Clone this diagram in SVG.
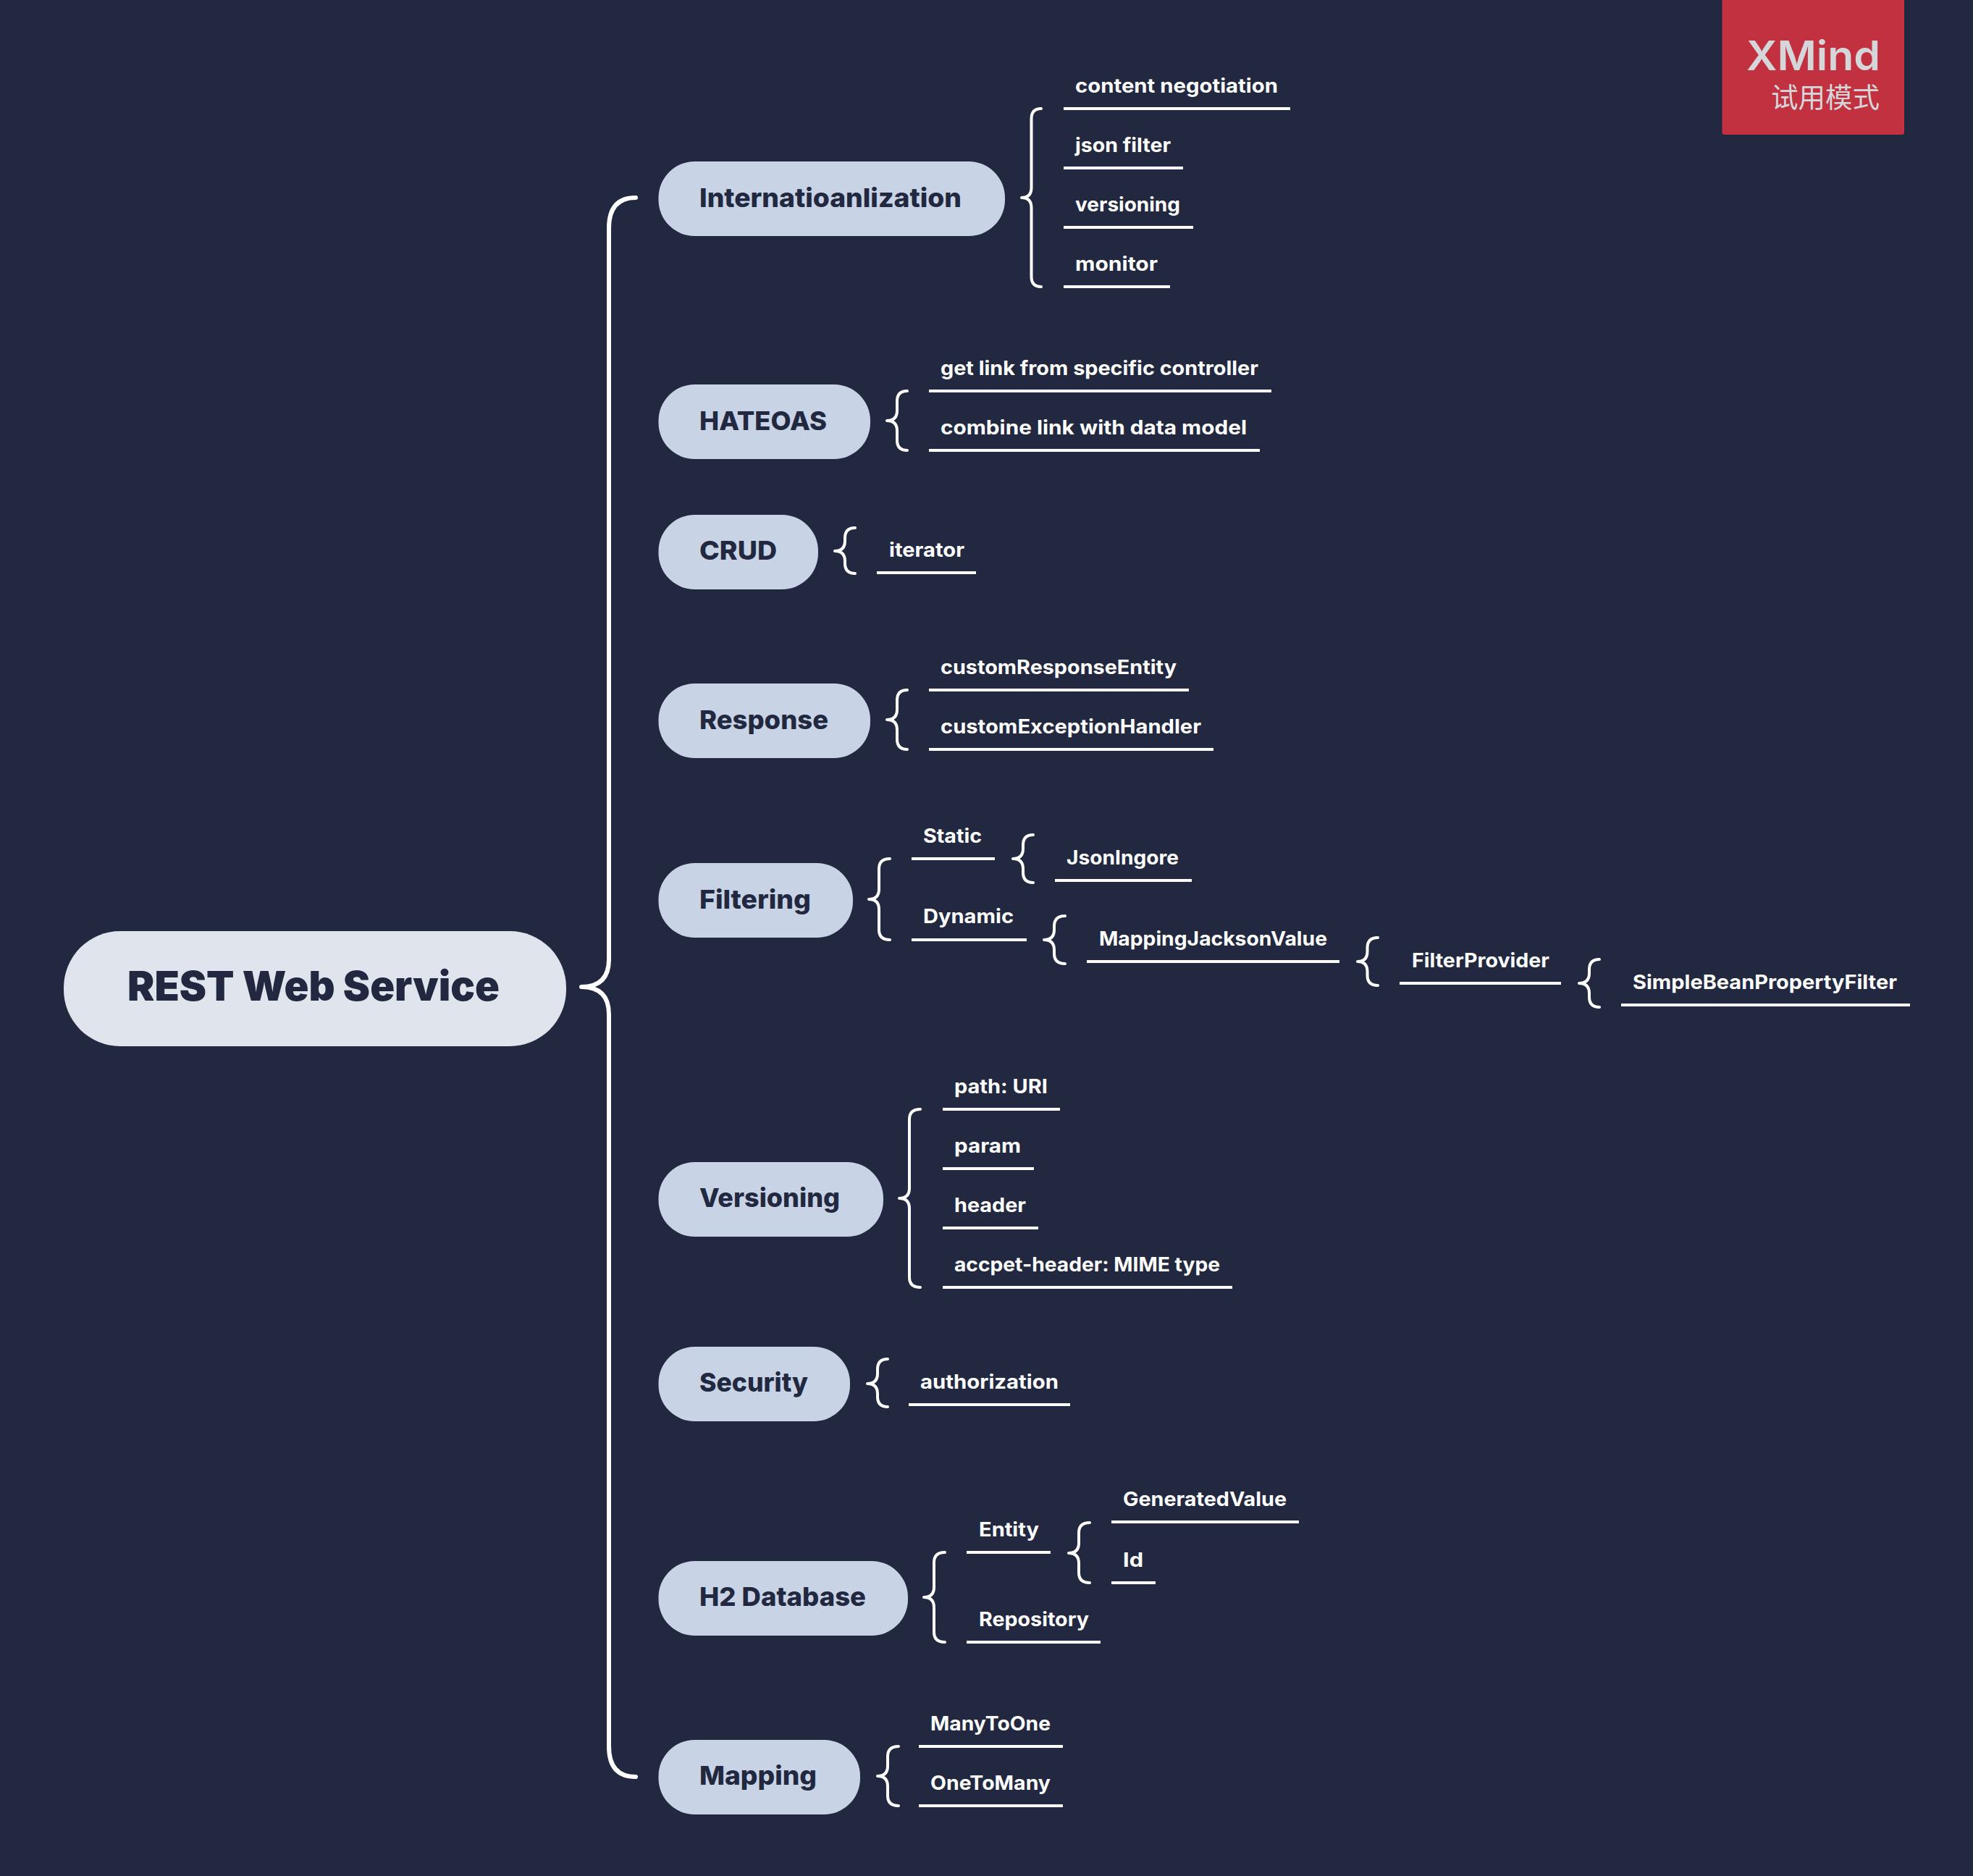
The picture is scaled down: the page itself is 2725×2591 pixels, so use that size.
<svg xmlns="http://www.w3.org/2000/svg" width="2725" height="2591" viewBox="0 0 2725 2591">
<style>
text{font-family:"Inter","Noto Sans","Liberation Sans",sans-serif}
.bg{fill:#21283f}
.root{fill:#e0e5ed}
.main{fill:#c8d4e6}
.rt{font-size:57px;font-weight:900;fill:#21283f}
.mt{font-size:36px;font-weight:800;fill:#21283f}
.ct{font-size:27px;font-weight:650;fill:#fff}
.ul{stroke:#fff;stroke-width:4;fill:none}
.br{stroke:#fff;stroke-width:4;fill:none;stroke-linecap:round;stroke-linejoin:round}
.brb{stroke:#fff;stroke-width:6;fill:none;stroke-linecap:round;stroke-linejoin:round}
</style>
<rect class="bg" width="2725" height="2591"/>
<g id="connectors">
<path class="brb" d="M878 273Q841 273 841 315V1325Q841 1363 803 1363Q841 1363 841 1401V2412Q841 2454 878 2454"/>
<path class="br" d="M1438 150Q1424.500 150 1424.500 164V259Q1424.500 273 1411 273Q1424.500 273 1424.500 287V382Q1424.500 396 1438 396"/>
<path class="br" d="M1253 540Q1239 540 1239 554V567Q1239 581 1225 581Q1239 581 1239 595V608Q1239 622 1253 622"/>
<path class="br" d="M1181 729Q1167 729 1167 743V747Q1167 761 1153 761Q1167 761 1167 775V778Q1167 792 1181 792"/>
<path class="br" d="M1253 953Q1239 953 1239 967V980Q1239 994 1225 994Q1239 994 1239 1008V1021Q1239 1035 1253 1035"/>
<path class="br" d="M1229 1186Q1214 1186 1214 1200V1228Q1214 1242 1200 1242Q1214 1242 1214 1256V1284Q1214 1298 1229 1298"/>
<path class="br" d="M1427 1153Q1413 1153 1413 1167V1172Q1413 1186 1399 1186Q1413 1186 1413 1200V1205Q1413 1219 1427 1219"/>
<path class="br" d="M1471 1265Q1456 1265 1456 1279V1284Q1456 1298 1442 1298Q1456 1298 1456 1312V1317Q1456 1331 1471 1331"/>
<path class="br" d="M1903 1295Q1888.500 1295 1888.500 1309V1314Q1888.500 1328 1875 1328Q1888.500 1328 1888.500 1342V1347Q1888.500 1361 1903 1361"/>
<path class="br" d="M2209 1325Q2195 1325 2195 1339V1344Q2195 1358 2181 1358Q2195 1358 2195 1372V1377Q2195 1391 2209 1391"/>
<path class="br" d="M1271 1532Q1256 1532 1256 1546V1641Q1256 1655 1242 1655Q1256 1655 1256 1669V1764Q1256 1778 1271 1778"/>
<path class="br" d="M1226 1877Q1212 1877 1212 1891V1897Q1212 1911 1198 1911Q1212 1911 1212 1925V1929Q1212 1943 1226 1943"/>
<path class="br" d="M1305 2144Q1290 2144 1290 2158V2192Q1290 2206 1276 2206Q1290 2206 1290 2220V2254Q1290 2268 1305 2268"/>
<path class="br" d="M1505 2103Q1490 2103 1490 2117V2131Q1490 2145 1476 2145Q1490 2145 1490 2159V2172Q1490 2186 1505 2186"/>
<path class="br" d="M1241 2412Q1226 2412 1226 2426V2439Q1226 2453 1212 2453Q1226 2453 1226 2467V2480Q1226 2494 1241 2494"/>
</g>
<g id="root"><rect class="root" x="88" y="1286" width="694" height="159" rx="78" ry="78"/><text class="rt" x="176" y="1382" textLength="514" lengthAdjust="spacingAndGlyphs">REST Web Service</text></g>
<g id="n-internationalization"><rect class="main" x="909.500" y="223" width="478.500" height="103" rx="50"/><text class="mt" x="966" y="286" textLength="362" lengthAdjust="spacingAndGlyphs">Internatioanlization</text></g>
<g id="n-hateoas"><rect class="main" x="909.500" y="531" width="292.500" height="103" rx="50"/><text class="mt" x="966" y="594" textLength="176" lengthAdjust="spacingAndGlyphs">HATEOAS</text></g>
<g id="n-crud"><rect class="main" x="909.500" y="711" width="220.500" height="103" rx="50"/><text class="mt" x="966" y="773" textLength="107" lengthAdjust="spacingAndGlyphs">CRUD</text></g>
<g id="n-response"><rect class="main" x="909.500" y="944" width="292.500" height="103" rx="50"/><text class="mt" x="966" y="1007" textLength="178" lengthAdjust="spacingAndGlyphs">Response</text></g>
<g id="n-filtering"><rect class="main" x="909.500" y="1192" width="268.500" height="103" rx="50"/><text class="mt" x="966" y="1255" textLength="154" lengthAdjust="spacingAndGlyphs">Filtering</text></g>
<g id="n-versioning"><rect class="main" x="909.500" y="1605" width="310.500" height="103" rx="50"/><text class="mt" x="966" y="1667" textLength="194" lengthAdjust="spacingAndGlyphs">Versioning</text></g>
<g id="n-security"><rect class="main" x="909.500" y="1860" width="264.500" height="103" rx="50"/><text class="mt" x="966" y="1922" textLength="150" lengthAdjust="spacingAndGlyphs">Security</text></g>
<g id="n-h2"><rect class="main" x="909.500" y="2156" width="344.500" height="103" rx="50"/><text class="mt" x="966" y="2218" textLength="230" lengthAdjust="spacingAndGlyphs">H2 Database</text></g>
<g id="n-mapping"><rect class="main" x="909.500" y="2403" width="278.500" height="103" rx="50"/><text class="mt" x="966" y="2465" textLength="162" lengthAdjust="spacingAndGlyphs">Mapping</text></g>
<g id="c-content"><path class="ul" d="M1469 150H1782"/><text class="ct" x="1485" y="128" textLength="280" lengthAdjust="spacingAndGlyphs">content negotiation</text></g>
<g id="c-json"><path class="ul" d="M1469 232H1634"/><text class="ct" x="1485" y="210" textLength="132" lengthAdjust="spacingAndGlyphs">json filter</text></g>
<g id="c-versioning"><path class="ul" d="M1469 314H1648"/><text class="ct" x="1485" y="292" textLength="145" lengthAdjust="spacingAndGlyphs">versioning</text></g>
<g id="c-monitor"><path class="ul" d="M1469 396H1616"/><text class="ct" x="1485" y="374" textLength="114" lengthAdjust="spacingAndGlyphs">monitor</text></g>
<g id="c-getlink"><path class="ul" d="M1283 540H1756"/><text class="ct" x="1299" y="518" textLength="439" lengthAdjust="spacingAndGlyphs">get link from specific controller</text></g>
<g id="c-combine"><path class="ul" d="M1283 622H1740"/><text class="ct" x="1299" y="600" textLength="423" lengthAdjust="spacingAndGlyphs">combine link with data model</text></g>
<g id="c-iterator"><path class="ul" d="M1211 791H1348"/><text class="ct" x="1228" y="769" textLength="104" lengthAdjust="spacingAndGlyphs">iterator</text></g>
<g id="c-cre"><path class="ul" d="M1283 953H1642"/><text class="ct" x="1299" y="931" textLength="326" lengthAdjust="spacingAndGlyphs">customResponseEntity</text></g>
<g id="c-ceh"><path class="ul" d="M1283 1035H1676"/><text class="ct" x="1299" y="1013" textLength="360" lengthAdjust="spacingAndGlyphs">customExceptionHandler</text></g>
<g id="c-static"><path class="ul" d="M1259 1186H1374"/><text class="ct" x="1275" y="1164" textLength="81" lengthAdjust="spacingAndGlyphs">Static</text></g>
<g id="c-dynamic"><path class="ul" d="M1259 1298H1418"/><text class="ct" x="1275" y="1275" textLength="125" lengthAdjust="spacingAndGlyphs">Dynamic</text></g>
<g id="c-jsoningore"><path class="ul" d="M1457 1216H1646"/><text class="ct" x="1473" y="1194" textLength="155" lengthAdjust="spacingAndGlyphs">JsonIngore</text></g>
<g id="c-mjv"><path class="ul" d="M1501 1328H1850"/><text class="ct" x="1518" y="1306" textLength="315" lengthAdjust="spacingAndGlyphs">MappingJacksonValue</text></g>
<g id="c-fp"><path class="ul" d="M1933 1358H2156"/><text class="ct" x="1950" y="1336" textLength="190" lengthAdjust="spacingAndGlyphs">FilterProvider</text></g>
<g id="c-sbpf"><path class="ul" d="M2239 1388H2638"/><text class="ct" x="2255" y="1366" textLength="365" lengthAdjust="spacingAndGlyphs">SimpleBeanPropertyFilter</text></g>
<g id="c-path"><path class="ul" d="M1302 1532H1464"/><text class="ct" x="1318" y="1510" textLength="129" lengthAdjust="spacingAndGlyphs">path: URI</text></g>
<g id="c-param"><path class="ul" d="M1302 1614H1428"/><text class="ct" x="1318" y="1592" textLength="92" lengthAdjust="spacingAndGlyphs">param</text></g>
<g id="c-header"><path class="ul" d="M1302 1696H1434"/><text class="ct" x="1318" y="1674" textLength="99" lengthAdjust="spacingAndGlyphs">header</text></g>
<g id="c-accept"><path class="ul" d="M1302 1778H1702"/><text class="ct" x="1318" y="1756" textLength="367" lengthAdjust="spacingAndGlyphs">accpet-header: MIME type</text></g>
<g id="c-auth"><path class="ul" d="M1255 1940H1478"/><text class="ct" x="1271" y="1918" textLength="191" lengthAdjust="spacingAndGlyphs">authorization</text></g>
<g id="c-entity"><path class="ul" d="M1335 2144H1451"/><text class="ct" x="1352" y="2122" textLength="83" lengthAdjust="spacingAndGlyphs">Entity</text></g>
<g id="c-repo"><path class="ul" d="M1335 2268H1520"/><text class="ct" x="1352" y="2246" textLength="152" lengthAdjust="spacingAndGlyphs">Repository</text></g>
<g id="c-gen"><path class="ul" d="M1535 2102H1794"/><text class="ct" x="1551" y="2080" textLength="226" lengthAdjust="spacingAndGlyphs">GeneratedValue</text></g>
<g id="c-id"><path class="ul" d="M1535 2186H1596"/><text class="ct" x="1551" y="2164" textLength="28" lengthAdjust="spacingAndGlyphs">Id</text></g>
<g id="c-m2o"><path class="ul" d="M1269 2412H1468"/><text class="ct" x="1285" y="2390" textLength="166" lengthAdjust="spacingAndGlyphs">ManyToOne</text></g>
<g id="c-o2m"><path class="ul" d="M1269 2494H1468"/><text class="ct" x="1285" y="2472" textLength="166" lengthAdjust="spacingAndGlyphs">OneToMany</text></g>
<g id="watermark"><rect x="2378.500" y="-4" width="251.500" height="190" rx="3" fill="#c2313f"/><text x="2412" y="97" font-size="57" font-weight="600" fill="#d5d6d9" textLength="185" lengthAdjust="spacingAndGlyphs">XMind</text><text x="2446" y="148" font-size="37.500" fill="#d5d6d9" style="font-family:'Noto Sans CJK SC',sans-serif">试用模式</text></g>
</svg>
